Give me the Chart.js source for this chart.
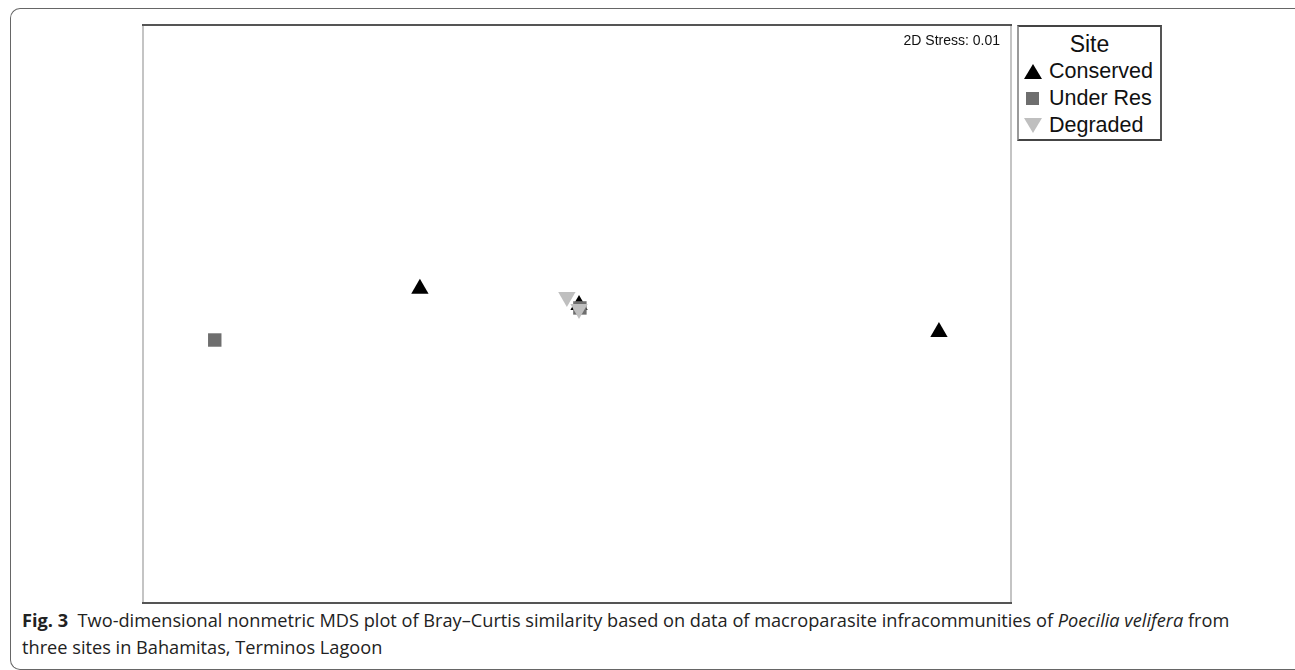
<!DOCTYPE html>
<html>
<head>
<meta charset="utf-8">
<script src="https://cdn.jsdelivr.net/npm/chart.js@4.4.1/dist/chart.umd.min.js"></script>
<style>
  html, body { margin: 0; padding: 0; background: #fff; }
  body { width: 1295px; height: 670px; position: relative; overflow: hidden; }
  #frame {
    position: absolute; left: 10px; top: 8px; width: 1300px; height: 660px;
    border: 1.5px solid #666; border-right: none; border-radius: 10px 0 0 10px;
  }
  #plot { position: absolute; left: 141px; top: 23px; }
  #legend {
    position: absolute; left: 1017px; top: 25px; width: 141px; height: 112px;
    border-top: 2px solid #444; border-bottom: 2px solid #444;
    border-left: 2px solid #9a9a9a; border-right: 2px solid #555;
    font-family: "Liberation Sans", Arial, sans-serif; color: #111;
  }
  #legend .title { text-align: center; font-size: 23px; line-height: 24px; margin-top: 5px; margin-bottom: 2px; }
  #legend .item { position: relative; height: 27px; font-size: 21.5px; line-height: 27px; padding-left: 30px; }
  #legend .sym { position: absolute; left: 5px; top: 6px; width: 0; height: 0; }
  #caption {
    position: absolute; left: 22px; top: 607px; width: 1268px;
    font-family: "Open Sans", "Noto Sans", sans-serif; font-size: 18.2px; line-height: 27px; color: #222;
  }
</style>
</head>
<body>
<div id="frame"></div>
<canvas id="plot" width="872" height="582"></canvas>
<div id="legend"><div class="title">Site</div></div>
<div id="caption"><b>Fig. 3</b>&nbsp; Two-dimensional nonmetric MDS plot of Bray–Curtis similarity based on data of macroparasite infracommunities of <i>Poecilia velifera</i> from<br>three sites in Bahamitas, Terminos Lagoon</div>

<script>
// MDS coordinates (axis units are arbitrary)
const sites = ["Conserved", "Under Res", "Degraded"];
const siteColors = ["#000000", "#6e6e6e", "#bfbfbf"];
const conservedX = [-0.543, 1.251, 0.007];
const conservedY = [0.087, -0.062, 0.031];
const underResX = [-1.252, 0.010];
const underResY = [-0.090, 0.021];
const degradedX = [-0.035, 0.007];
const degradedY = [0.059, 0.017];
const stressLabel = "2D Stress: 0.01";

const toPoints = (xs, ys) => xs.map((x, i) => ({ x, y: ys[i] }));

// plot box: dark top/bottom, light sides, plus the stress note
const boxPlugin = {
  id: "box",
  afterDraw(chart) {
    const { ctx, chartArea: a } = chart;
    ctx.save();
    ctx.lineWidth = 2;
    ctx.strokeStyle = "#c4c4c4";
    ctx.beginPath();
    ctx.moveTo(a.left, a.top); ctx.lineTo(a.left, a.bottom);
    ctx.moveTo(a.right, a.top); ctx.lineTo(a.right, a.bottom);
    ctx.stroke();
    ctx.strokeStyle = "#555";
    ctx.beginPath();
    ctx.moveTo(a.left - 1, a.top); ctx.lineTo(a.right + 1, a.top);
    ctx.moveTo(a.left - 1, a.bottom); ctx.lineTo(a.right + 1, a.bottom);
    ctx.stroke();
    ctx.fillStyle = "#111";
    ctx.font = "14px 'Liberation Sans', Arial, sans-serif";
    ctx.textAlign = "right";
    ctx.textBaseline = "middle";
    ctx.fillText(stressLabel, a.right - 11, a.top + 16);
    ctx.restore();
  }
};

const chart = new Chart(document.getElementById("plot"), {
  type: "scatter",
  data: {
    datasets: [
      { label: sites[0], data: toPoints(conservedX, conservedY), pointStyle: "triangle",
        pointRadius: 10, backgroundColor: siteColors[0], borderWidth: 0, order: 2 },
      { label: sites[1], data: toPoints(underResX, underResY), pointStyle: "rect",
        pointRadius: 9.5, backgroundColor: siteColors[1], borderWidth: 0, order: 1 },
      { label: sites[2], data: toPoints(degradedX, degradedY), pointStyle: "triangle", rotation: 180,
        pointRadius: 10, backgroundColor: siteColors[2], borderWidth: 0, order: 0 }
    ]
  },
  options: {
    responsive: false,
    animation: false,
    layout: { padding: 2, autoPadding: false },
    plugins: { legend: { display: false }, tooltip: { enabled: false } },
    scales: {
      x: { display: false, min: -1.5, max: 1.5 },
      y: { display: false, min: -1, max: 1 }
    }
  },
  plugins: [boxPlugin]
});

// legend built from the same site names and colours
const legend = document.getElementById("legend");
const shapes = ["up", "square", "down"];
sites.forEach((name, i) => {
  const item = document.createElement("div");
  item.className = "item";
  const sym = document.createElement("span");
  sym.className = "sym";
  if (shapes[i] === "up") {
    sym.style.cssText += `border-left:9px solid transparent;border-right:9px solid transparent;border-bottom:15px solid ${siteColors[i]};`;
  } else if (shapes[i] === "down") {
    sym.style.cssText += `border-left:9px solid transparent;border-right:9px solid transparent;border-top:15px solid ${siteColors[i]};`;
  } else {
    sym.style.cssText += `width:13px;height:13px;left:7px;top:7px;background:${siteColors[i]};`;
  }
  item.appendChild(sym);
  item.appendChild(document.createTextNode(name));
  legend.appendChild(item);
});
</script>
</body>
</html>
